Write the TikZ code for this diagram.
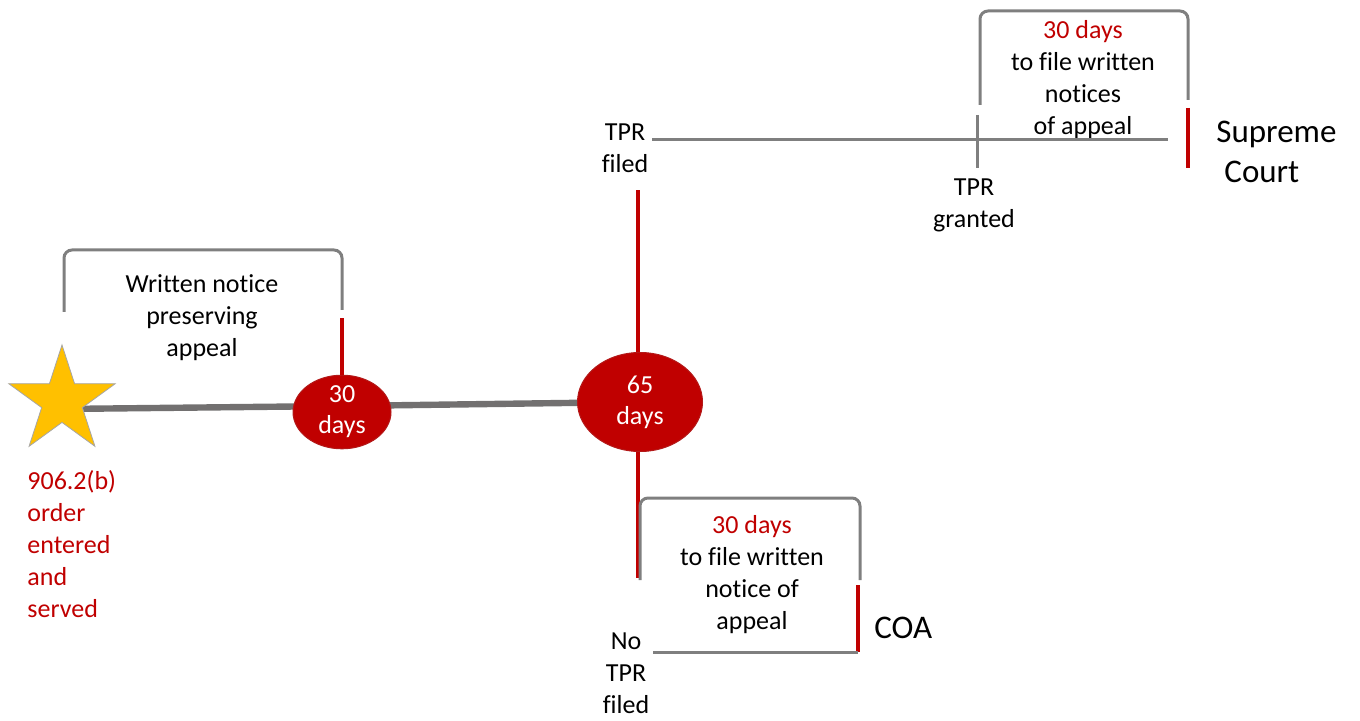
\documentclass[tikz,border=0pt]{standalone}
\usepackage{fontspec}
\setmainfont{Carlito}[Ligatures={NoCommon}]
\usetikzlibrary{shapes.geometric,backgrounds}
\definecolor{dred}{HTML}{C00000}
\definecolor{lgray}{HTML}{7F7F7F}
\definecolor{mgray}{HTML}{727070}
\definecolor{gold}{HTML}{FFC000}
\tikzset{
  txt/.style={align=center, inner sep=0pt, font=\fontsize{13}{16}\selectfont},
  redtxt/.style={txt, text=dred},
  big/.style={align=left, inner sep=0pt, font=\fontsize{16.5}{20}\selectfont},
  bracket/.style={draw=lgray, line width=1.5pt, rounded corners=4pt},
  redline/.style={draw=dred, line width=2pt},
  mainline/.style={draw=mgray, line width=3.2pt},
  grayline/.style={draw=lgray, line width=1.5pt},
  days/.style={ellipse, fill=dred, draw=dred!80!gray, line width=0.5pt, text=white,
    align=center, inner sep=0pt, font=\fontsize{13}{15.5}\selectfont},
}
\begin{document}
\begin{tikzpicture}[x=0.5pt,y=-0.5pt]
\useasboundingbox (0,0) rectangle (1360,721);

% nodes
\node[star, star points=5, star point ratio=2.618, minimum size=56pt, inner sep=0pt,
      fill=gold, draw=gray!70, line width=0.4pt] (star) at (62,401) {};
\node[days, minimum width=49pt, minimum height=35pt] (e30) at (342,412) {30\\days};
\node[days, minimum width=62.5pt, minimum height=49.5pt] (e65) at (640,402) {65\\days};

\node[redtxt, align=left, anchor=west] (ord) at (27,544) {906.2(b)\\order\\entered\\and\\served};
\node[txt] (wn) at (202,318) {Written notice\\preserving\\appeal};

\node[txt] (tprf) at (625,148) {TPR\\filed};
\node[txt] (tprg) at (974,205) {TPR\\granted};
\node[txt] (t2) at (1083,80) {\textcolor{dred}{30 days}\\to file written\\notices\\of appeal};
\node[big, anchor=west] (sc) at (1216,152) {Supreme\\\hspace*{4pt}Court};

\node[txt] (nof) at (626,673) {No\\TPR\\filed};
\node[txt] (t3) at (752,575) {\textcolor{dred}{30 days}\\to file written\\notice of\\appeal};
\node[big, anchor=west] (coa) at (874,628) {COA};

% coordinates
\coordinate (r1) at (342,318);
\coordinate (r2) at (638,190);
\coordinate (r3) at (638,578);
\coordinate (tl0) at (652,140);
\coordinate (tl1) at (1168,140);
\coordinate (g0) at (977,115);
\coordinate (g1) at (977,168);
\coordinate (s0) at (1188,108);
\coordinate (s1) at (1188,168);
\coordinate (c0) at (858,585);
\coordinate (c1) at (858,652);
\coordinate (bl0) at (653,652);

% main timeline (behind the star and ellipses)
\begin{pgfonlayer}{background}
\draw[mainline] ([yshift=-4pt]star.center) -- ([yshift=3pt]e30.center) -- (e65.center);
\end{pgfonlayer}

% first bracket
\draw[bracket] (64,312) -- (64,250) -- (342,250) -- (342,310);
\draw[redline] (e30.north) -- (r1);

% vertical red lines from 65 days
\draw[redline] (e65.north -| r2) -- (r2);
\draw[redline] (e65.south -| r3) -- (r3);

% top branch
\draw[grayline] (tl0) -- (tl1);
\draw[grayline] (g0) -- (g1);
\draw[bracket] (980,105) -- (980,11) -- (1188,11) -- (1188,100);
\draw[redline] (s0) -- (s1);

% bottom branch
\draw[bracket] (640,580) -- (640,498) -- (860,498) -- (860,580);
\draw[redline] (c0) -- (c1);
\draw[grayline] (bl0) -- (c1);
\end{tikzpicture}
\end{document}
